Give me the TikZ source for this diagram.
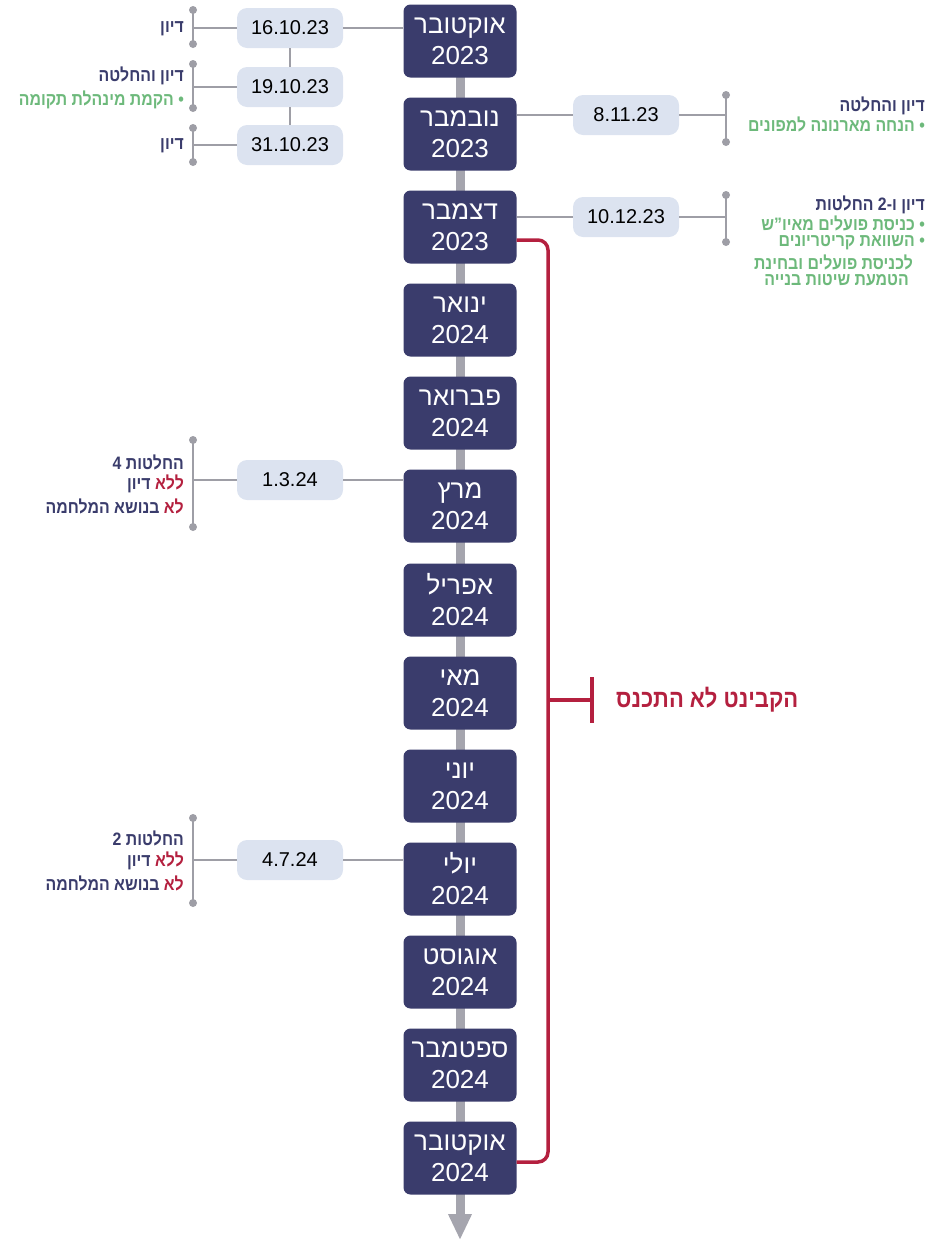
\documentclass[tikz,border=0pt]{standalone}
\usepackage{fontspec}
\setmainfont{Liberation Sans}
\newfontfamily\hb[Script=Hebrew]{Liberation Sans}
\newfontfamily\hbc[Script=Hebrew,FakeStretch=0.88]{Liberation Sans}
\TeXXeTstate=1
\usetikzlibrary{arrows.meta,backgrounds}
\definecolor{navy}{HTML}{3A3C6C}
\definecolor{datefill}{HTML}{DCE3F0}
\definecolor{greyl}{HTML}{9E9EA6}
\definecolor{spinec}{HTML}{A5A5AE}
\definecolor{grn}{HTML}{6DB97B}
\definecolor{redd}{HTML}{B4203F}
\newcommand\hebR[1]{\beginR #1\endR}
\tikzset{
  month/.style={rectangle, rounded corners=7pt, fill=navy, text=white, minimum width=113pt, minimum height=73pt, align=center, font=\hb\fontsize{26}{31}\selectfont, inner sep=0pt},
  datebox/.style={rectangle, rounded corners=10pt, fill=datefill, text=black, minimum width=106pt, minimum height=40pt, font=\fontsize{20}{24}\selectfont, inner sep=0pt},
  conn/.style={draw=greyl, line width=2pt},
  dotc/.style={circle, fill=greyl, minimum size=8pt, inner sep=0pt},
  lblL/.style={anchor=east, font=\hbc\bfseries\fontsize{18}{21}\selectfont, text=navy, inner sep=0pt},
  greenL/.style={lblL, text=grn},
  redline/.style={draw=redd, line width=3.5pt},
}
\begin{document}
\begin{tikzpicture}[x=1pt,y=-1pt]
\useasboundingbox (0,0) rectangle (928,1240);
% months
\node[month] (m0) at (460,41) {\hebR{אוקטובר}\\2023};
\node[month] (m1) at (460,134) {\hebR{נובמבר}\\2023};
\node[month] (m2) at (460,227) {\hebR{דצמבר}\\2023};
\node[month] (m3) at (460,320) {\hebR{ינואר}\\2024};
\node[month] (m4) at (460,413) {\hebR{פברואר}\\2024};
\node[month] (m5) at (460,506) {\hebR{מרץ}\\2024};
\node[month] (m6) at (460,600) {\hebR{אפריל}\\2024};
\node[month] (m7) at (460,693) {\hebR{מאי}\\2024};
\node[month] (m8) at (460,786) {\hebR{יוני}\\2024};
\node[month] (m9) at (460,879) {\hebR{יולי}\\2024};
\node[month] (m10) at (460,972) {\hebR{אוגוסט}\\2024};
\node[month] (m11) at (460,1065) {\hebR{ספטמבר}\\2024};
\node[month] (m12) at (460,1158) {\hebR{אוקטובר}\\2024};
\coordinate (arrowend) at (460,1240);
\begin{scope}[on background layer]
\draw[spinec, line width=9pt, -{Triangle[width=22pt,length=26pt]}] (m0.center) -- (arrowend);
\end{scope}

% left dates October 2023
\node[datebox] (d1) at (290,28) {16.10.23};
\node[datebox] (d2) at (290,87) {19.10.23};
\node[datebox] (d3) at (290,145) {31.10.23};
\draw[conn] (d1.east) -- (d1 -| m0.west);
\draw[conn] (d1) -- (d2);
\draw[conn] (d2) -- (d3);

% brackets left
\foreach \n/\t/\c/\b in {d1/10/28/44, d2/64/87/108, d3/128/145/162, d4/440/480/527, d5/818/860/903} {
  \coordinate (\n t) at (193,\t);
  \coordinate (\n c) at (193,\c);
  \coordinate (\n b) at (193,\b);
}
\node[datebox] (d4) at (290,480) {1.3.24};
\node[datebox] (d5) at (290,860) {4.7.24};
\draw[conn] (d4.east) -- (d4 -| m5.west);
\draw[conn] (d5.east) -- (d5 -| m9.west);
\foreach \n in {d1,d2,d3,d4,d5} {
  \draw[conn] (\n t) -- (\n b);
  \draw[conn] (\n c) -- (\n.west);
  \node[dotc] at (\n t) {};
  \node[dotc] at (\n b) {};
}

% left labels
\node[lblL] (l1) at (184,29) {\hebR{דיון}};
\node[lblL] (l2a) at (184,76) {\hebR{דיון והחלטה}};
\node[greenL] (l2b) at (184,100) {\hebR{• הקמת מינהלת תקומה}};
\node[lblL] (l3) at (184,146) {\hebR{דיון}};
\node[lblL] (l4a) at (184,462) {\hebR{החלטות 4}};
\node[lblL] (l4b) at (184,484) {\hebR{דיון}\ \textcolor{redd}{\hebR{ללא}}};
\node[lblL] (l4c) at (184,506) {\hebR{בנושא המלחמה}\ \textcolor{redd}{\hebR{לא}}};
\node[lblL] (l5a) at (184,838) {\hebR{החלטות 2}};
\node[lblL] (l5b) at (184,861) {\hebR{דיון}\ \textcolor{redd}{\hebR{ללא}}};
\node[lblL] (l5c) at (184,883) {\hebR{בנושא המלחמה}\ \textcolor{redd}{\hebR{לא}}};

% right dates
\node[datebox] (e1) at (626,115) {8.11.23};
\node[datebox] (e2) at (626,217) {10.12.23};
\draw[conn] (e1 -| m1.east) -- (e1.west);
\draw[conn] (e2 -| m2.east) -- (e2.west);
\coordinate (e1t) at (726,95);
\coordinate (e1c) at (726,115);
\coordinate (e1b) at (726,142);
\coordinate (e2t) at (726,195);
\coordinate (e2c) at (726,217);
\coordinate (e2b) at (726,242);
\foreach \n in {e1,e2} {
  \draw[conn] (\n t) -- (\n b);
  \draw[conn] (\n.east) -- (\n c);
  \node[dotc] at (\n t) {};
  \node[dotc] at (\n b) {};
}
\node[lblL] (r1a) at (925,106) {\hebR{דיון והחלטה}};
\node[greenL] (r1b) at (925,124) {\hebR{• הנחה מארנונה למפונים}};
\node[lblL] (r2a) at (925,205) {\hebR{דיון ו-2 החלטות}};
\node[greenL] (r2b) at (925,223) {\hebR{• כניסת פועלים מאיו”ש}};
\node[greenL] (r2c) at (925,243) {\hebR{• השוואת קריטריונים}};
\node[greenL] (r2d) at (913,262) {\hebR{לכניסת פועלים ובחינת}};
\node[greenL] (r2e) at (909,280.5) {\hebR{הטמעת שיטות בנייה}};

% red bracket
\coordinate (rs) at ([yshift=-13pt]m2.east);
\coordinate (re) at ([yshift=-4pt]m12.east);
\coordinate (rx) at (548,700);
\draw[redline, rounded corners=10pt] (rs) -- (rs -| rx) -- (re -| rx) -- (re);
\coordinate (tee) at (592,700);
\draw[redline] (rx) -- (tee);
\draw[redline] ([yshift=23pt]tee) -- ([yshift=-23pt]tee);
\node[anchor=west, inner sep=0pt, text=redd, font=\hbc\bfseries\fontsize{25}{28}\selectfont] (cab) at (616,700) {\hebR{הקבינט לא התכנס}};
\end{tikzpicture}
\end{document}
